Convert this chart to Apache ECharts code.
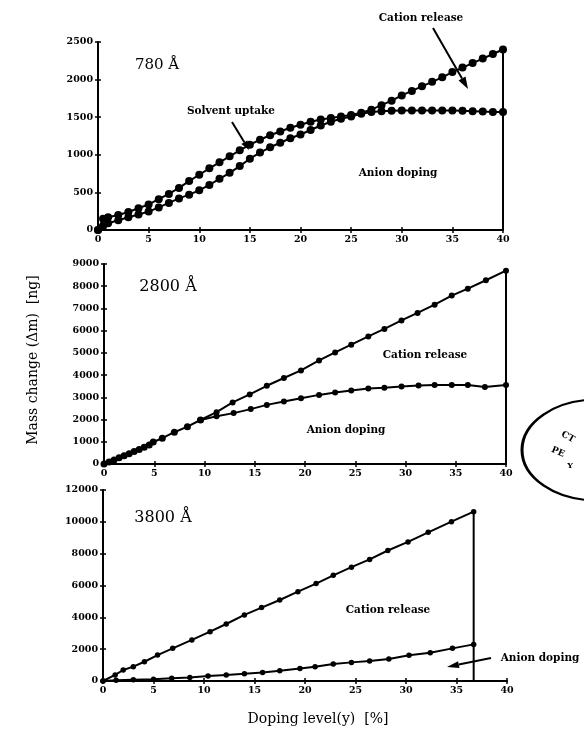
<!DOCTYPE html>
<html>
<head>
<meta charset="utf-8">
<script src="https://cdn.jsdelivr.net/npm/echarts@6/dist/echarts.min.js"></script>
<style>
html,body{margin:0;padding:0;background:#fff;}
#chart{width:584px;height:731px;}
</style>
</head>
<body>
<div id="chart"></div>
<script>
// ---------- Panel 1: 780 Å ----------
const p1X = [0,0.5,1,2,3,4,5,6,7,8,9,10,11,12,13,14,15,16,17,18,19,20,21,22,23,24,25,26,27,28,29,30,31,32,33,34,35,36,37,38,39,40];
const p1Upper = [0,150,170,200,240,290,340,410,480,560,650,735,820,900,980,1060,1135,1200,1260,1310,1360,1400,1440,1470,1490,1510,1530,1560,1600,1660,1720,1790,1850,1910,1970,2030,2100,2160,2220,2280,2340,2400];
const p1Lower = [0,50,90,130,170,205,245,300,360,420,470,527,600,680,760,850,948,1030,1100,1160,1220,1270,1330,1390,1440,1480,1510,1545,1570,1580,1585,1590,1590,1590,1590,1590,1590,1585,1580,1575,1570,1570];
const p1EdgeX = [40,40];
const p1EdgeY = [2400,0];

// ---------- Panel 2: 2800 Å ----------
const p2StartX = [0,0.5,1,1.5,2,2.5,3,3.5,4,4.5,4.9,5.8,7.0,8.3,9.6];
const p2StartY = [0,90,180,280,370,460,560,650,750,850,990,1160,1430,1680,1980];
const p2UpperX = [9.6,11.2,12.8,14.5,16.2,17.9,19.6,21.4,23.0,24.6,26.3,27.9,29.6,31.2,32.9,34.6,36.2,38.0,40];
const p2UpperY = [1980,2330,2770,3130,3520,3870,4210,4660,5020,5370,5740,6080,6460,6800,7170,7580,7890,8270,8700];
const p2LowerX = [9.6,11.2,12.9,14.6,16.2,17.9,19.6,21.4,23.0,24.6,26.3,27.9,29.6,31.3,32.9,34.6,36.2,37.9,40];
const p2LowerY = [1980,2150,2290,2470,2660,2810,2960,3110,3220,3310,3400,3430,3490,3530,3560,3560,3560,3460,3560];
const p2EdgeX = [40,40];
const p2EdgeY = [8700,0];

// ---------- Panel 3: 3800 Å ----------
const p3UpperX = [0,1.2,2.0,3.0,4.1,5.4,6.9,8.8,10.6,12.2,14.0,15.7,17.5,19.3,21.1,22.8,24.6,26.4,28.2,30.2,32.2,34.5,36.7];
const p3UpperY = [0,380,690,900,1210,1630,2050,2580,3100,3580,4150,4610,5090,5610,6120,6640,7150,7640,8200,8740,9340,10010,10640];
const p3LowerX = [0,1.3,3.0,5.0,6.8,8.6,10.4,12.2,14.0,15.8,17.5,19.5,21.0,22.8,24.6,26.4,28.3,30.3,32.4,34.6,36.7];
const p3LowerY = [0,50,80,110,180,220,310,380,450,540,650,790,900,1070,1170,1260,1380,1620,1780,2050,2300];
const p3EdgeX = [36.7,36.7];
const p3EdgeY = [10640,0];

// ---------- Axes ----------
const xMin = 0, xMax = 40, xStep = 5;
const yMax = [2500, 9000, 12000];
const yStep = [500, 1000, 2000];

const pairs = (xs, ys) => xs.map((x, i) => [x, ys[i]]);

const grids = [
  {left: 98, top: 42, width: 405, height: 188},
  {left: 104, top: 264, width: 402, height: 200},
  {left: 103, top: 490, width: 404, height: 191}
];

const tickFont = {fontFamily: 'DejaVu Serif', fontWeight: 'bold', fontSize: 9.5, color: '#000',
                  formatter: v => String(v)};
const xAxes = [], yAxes = [];
for (let g = 0; g < 3; g++) {
  xAxes.push({
    gridIndex: g, type: 'value', min: xMin, max: xMax, interval: xStep,
    axisLine: {lineStyle: {color: '#000', width: 2}},
    axisTick: {show: true, inside: false, length: 3, lineStyle: {color: '#000', width: 1.5}},
    axisLabel: Object.assign({margin: 5}, tickFont),
    splitLine: {show: false}
  });
  xAxes.push({
    gridIndex: g, type: 'value', min: xMin, max: xMax, interval: xStep, position: 'bottom',
    axisLine: {show: false},
    axisTick: {show: true, inside: true, length: 3, lineStyle: {color: '#000', width: 1.5}},
    axisLabel: {show: false}, splitLine: {show: false}
  });
  yAxes.push({
    gridIndex: g, type: 'value', min: 0, max: yMax[g], interval: yStep[g],
    axisLine: {show: true, lineStyle: {color: '#000', width: 2}},
    axisTick: {show: true, inside: false, length: 3, lineStyle: {color: '#000', width: 1.5}},
    axisLabel: Object.assign({margin: 5}, tickFont),
    splitLine: {show: false}
  });
  yAxes.push({
    gridIndex: g, type: 'value', min: 0, max: yMax[g], interval: yStep[g], position: 'left',
    axisLine: {show: false},
    axisTick: {show: true, inside: true, length: 3, lineStyle: {color: '#000', width: 1.5}},
    axisLabel: {show: false}, splitLine: {show: false}
  });
}

function dotted(g, data, size) {
  return {
    type: 'line', xAxisIndex: g * 2, yAxisIndex: g * 2, data: data,
    symbol: 'circle', symbolSize: size, showSymbol: true,
    lineStyle: {color: '#000', width: 2}, itemStyle: {color: '#000'},
    animation: false, silent: true, clip: false
  };
}
function plain(g, data) {
  return {
    type: 'line', xAxisIndex: g * 2, yAxisIndex: g * 2, data: data,
    symbol: 'none', lineStyle: {color: '#000', width: 2},
    animation: false, silent: true, clip: false
  };
}

const series = [
  dotted(0, pairs(p1X, p1Upper), 8),
  dotted(0, pairs(p1X, p1Lower), 8),
  plain(0, pairs(p1EdgeX, p1EdgeY)),
  dotted(1, pairs(p2StartX, p2StartY), 7),
  dotted(1, pairs(p2UpperX, p2UpperY), 6),
  dotted(1, pairs(p2LowerX, p2LowerY), 6),
  plain(1, pairs(p2EdgeX, p2EdgeY)),
  dotted(2, pairs(p3UpperX, p3UpperY), 5.5),
  dotted(2, pairs(p3LowerX, p3LowerY), 5.5),
  plain(2, pairs(p3EdgeX, p3EdgeY))
];

// ---------- Annotations ----------
function txt(x, y, text, size, weight, extra) {
  return Object.assign({
    type: 'text', x: x, y: y, silent: true,
    style: {text: text, fontFamily: 'DejaVu Serif', fontSize: size, fontWeight: weight || 'normal',
            fill: '#000', align: 'center', verticalAlign: 'middle'}
  }, extra || {});
}
function arrow(x1, y1, x2, y2, len, w) {
  const a = Math.atan2(y2 - y1, x2 - x1);
  const bx = x2 - len * Math.cos(a), by = y2 - len * Math.sin(a);
  const px = -Math.sin(a) * w, py = Math.cos(a) * w;
  return [
    {type: 'line', silent: true, shape: {x1: x1, y1: y1, x2: bx, y2: by}, style: {stroke: '#000', lineWidth: 2}},
    {type: 'polygon', silent: true, shape: {points: [[x2, y2], [bx + px, by + py], [bx - px, by - py]]}, style: {fill: '#000'}}
  ];
}
const annLabel = 10.5;
const graphics = [
  txt(157, 65, '780 Å', 15),
  txt(168, 287, '2800 Å', 16),
  txt(163, 518, '3800 Å', 16),
  txt(421, 18, 'Cation release', annLabel, 'bold'),
  txt(231, 111, 'Solvent uptake', annLabel, 'bold'),
  txt(398, 173, 'Anion doping', annLabel, 'bold'),
  txt(425, 355, 'Cation release', annLabel, 'bold'),
  txt(346, 430, 'Anion doping', annLabel, 'bold'),
  txt(388, 610, 'Cation release', annLabel, 'bold'),
  txt(540, 658, 'Anion doping', annLabel, 'bold'),
  txt(318, 719, 'Doping level(y)  [%]', 14),
  txt(33, 360, 'Mass change (Δm)  [ng]', 14, 'normal', {rotation: Math.PI / 2}),
  // scanned stamp at the right edge
  {type: 'circle', silent: true, x: 596, y: 450, scaleX: 1, scaleY: 0.68,
   shape: {cx: 0, cy: 0, r: 74}, style: {fill: 'none', stroke: '#000', lineWidth: 3}},
  txt(568, 437, 'CT', 9, 'bold', {rotation: -0.5}),
  txt(558, 452, 'PE', 9, 'bold', {rotation: -0.4}),
  txt(570, 466, 'Y', 8, 'bold')
].concat(
  arrow(433, 28, 468, 89, 12, 4),
  arrow(232, 122, 249, 150, 9, 3.5),
  arrow(491, 658, 447, 667, 12, 3.5)
);

const chart = echarts.init(document.getElementById('chart'), null, {renderer: 'canvas'});
chart.setOption({
  backgroundColor: '#fff',
  animation: false,
  grid: grids,
  xAxis: xAxes,
  yAxis: yAxes,
  series: series,
  graphic: graphics
});
</script>
</body>
</html>
